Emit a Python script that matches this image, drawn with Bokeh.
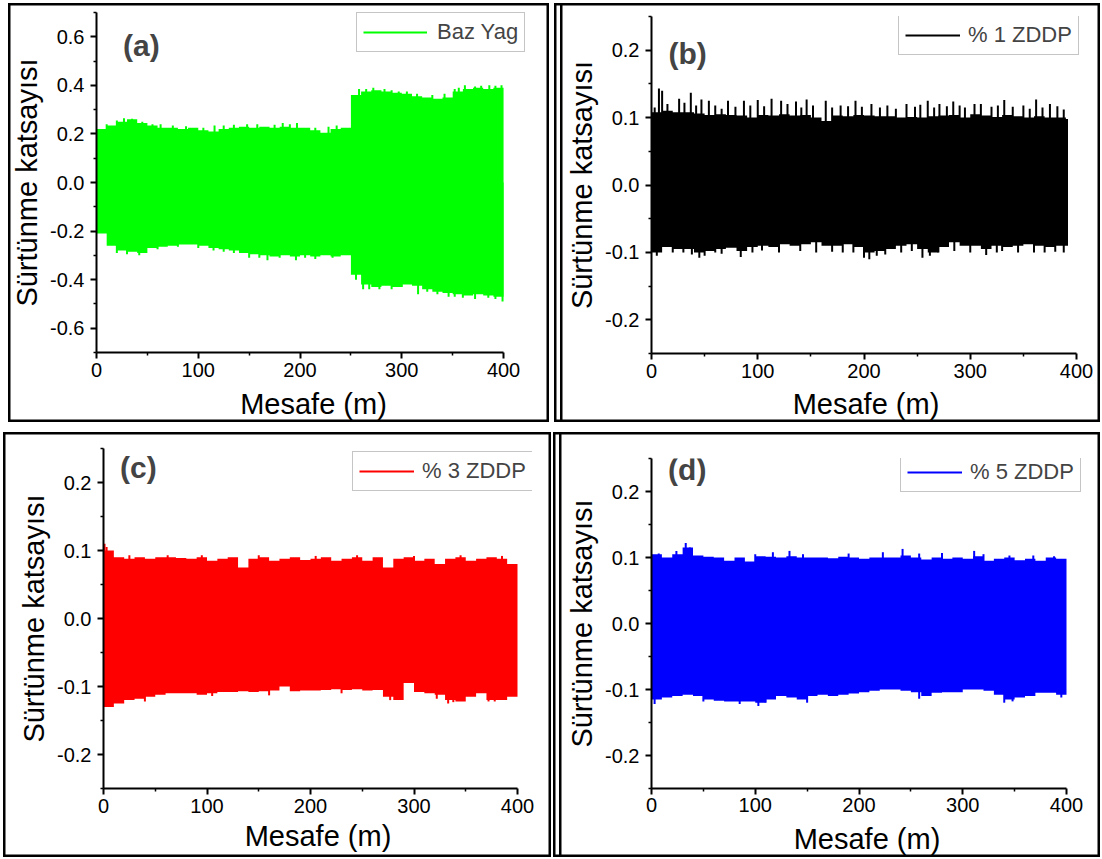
from bokeh.plotting import figure
from bokeh.layouts import column, row
from bokeh.models import (Range1d, FixedTicker, PrintfTickFormatter, Legend,
                          LegendItem, Label)
from bokeh.embed import file_html
from bokeh.resources import INLINE

FONT = "Liberation Sans"

# ---------------- data (envelopes of the friction signal) -------------
dist = list(range(0, 401, 10))
dist_b = list(range(0, 391, 10)) + [392]

a_top = [0.22, 0.235, 0.25, 0.26, 0.245, 0.235, 0.225, 0.225, 0.22, 0.225,
         0.215, 0.21, 0.22, 0.225, 0.23, 0.225, 0.23, 0.225, 0.23, 0.225,
         0.225, 0.215, 0.205, 0.22, 0.225, 0.36, 0.375, 0.38, 0.375, 0.37,
         0.365, 0.355, 0.35, 0.345, 0.35, 0.375, 0.385, 0.39, 0.385, 0.39, 0.39]
a_bot = [-0.21, -0.26, -0.28, -0.285, -0.29, -0.27, -0.265, -0.26, -0.255, -0.255,
         -0.26, -0.27, -0.275, -0.28, -0.29, -0.295, -0.3, -0.305, -0.3, -0.305,
         -0.3, -0.305, -0.3, -0.305, -0.3, -0.38, -0.42, -0.43, -0.425, -0.43,
         -0.42, -0.425, -0.44, -0.45, -0.455, -0.46, -0.465, -0.46, -0.465, -0.47, -0.48]
a_spike_x = [10, 20, 27, 35, 45, 55, 63, 75, 88, 105, 116, 125, 135, 148, 158, 175, 183,
             190, 197, 215, 228, 236, 258, 265, 272, 283, 290, 297, 305, 315, 330, 342,
             352, 356, 362, 372, 378, 386, 392, 398,
             20, 30, 42, 60, 80, 100, 115, 125, 135, 150, 160, 168, 180, 196, 205, 215,
             232, 255, 262, 268, 278, 290, 300, 316, 325, 335, 346, 352, 360, 372, 385, 392, 399]
a_spike_y = [0.24, 0.255, 0.265, 0.262, 0.25, 0.24, 0.24, 0.235, 0.232, 0.225, 0.235, 0.235,
             0.238, 0.24, 0.24, 0.238, 0.245, 0.24, 0.245, 0.225, 0.23, 0.235, 0.385, 0.385,
             0.39, 0.385, 0.38, 0.375, 0.375, 0.365, 0.36, 0.365, 0.385, 0.39, 0.4, 0.395,
             0.398, 0.4, 0.398, 0.4,
             -0.29, -0.295, -0.3, -0.275, -0.265, -0.27, -0.28, -0.285, -0.29, -0.31, -0.31,
             -0.32, -0.31, -0.32, -0.31, -0.315, -0.31, -0.4, -0.44, -0.44, -0.44, -0.44,
             -0.43, -0.46, -0.45, -0.46, -0.47, -0.47, -0.475, -0.48, -0.475, -0.48, -0.49]

b_top = [0.108, 0.11, 0.108, 0.108, 0.106, 0.104, 0.105, 0.104, 0.103, 0.1,
         0.104, 0.103, 0.105, 0.103, 0.104, 0.1, 0.095, 0.103, 0.102, 0.104,
         0.103, 0.102, 0.102, 0.1, 0.101, 0.1, 0.102, 0.103, 0.104, 0.1,
         0.105, 0.103, 0.101, 0.104, 0.102, 0.1, 0.102, 0.1, 0.1, 0.098, 0.098]
b_bot = [-0.1, -0.092, -0.095, -0.095, -0.1, -0.098, -0.095, -0.093, -0.098, -0.092,
         -0.09, -0.092, -0.088, -0.09, -0.088, -0.085, -0.09, -0.09, -0.088, -0.092,
         -0.1, -0.098, -0.095, -0.09, -0.088, -0.095, -0.1, -0.092, -0.085, -0.09,
         -0.09, -0.095, -0.09, -0.092, -0.09, -0.088, -0.09, -0.092, -0.09, -0.09, -0.09]
b_spike_x = [3, 7, 10, 15, 26, 31, 37, 42, 47, 54, 60, 66, 72, 79, 87, 93, 100, 106, 113,
             122, 128, 136, 141, 146, 152, 164, 170, 178, 185, 192, 198, 207, 215, 222,
             230, 240, 248, 253, 260, 266, 271, 278, 284, 290, 295, 304, 310, 320, 326,
             332, 340, 350, 356, 362, 368, 375, 382, 388,
             5, 20, 30, 38, 45, 50, 60, 66, 84, 95, 104, 120, 140, 155, 170, 180, 190,
             200, 205, 212, 220, 235, 245, 255, 262, 270, 285, 300, 315, 325, 330, 345,
             360, 370, 380, 388]
b_spike_y = [0.115, 0.143, 0.14, 0.12, 0.128, 0.122, 0.137, 0.118, 0.127, 0.125, 0.118,
             0.113, 0.125, 0.116, 0.125, 0.118, 0.126, 0.117, 0.128, 0.125, 0.12, 0.124,
             0.115, 0.127, 0.118, 0.125, 0.115, 0.118, 0.117, 0.125, 0.116, 0.12, 0.115,
             0.118, 0.113, 0.12, 0.116, 0.119, 0.125, 0.115, 0.12, 0.117, 0.124, 0.118,
             0.115, 0.12, 0.12, 0.116, 0.118, 0.126, 0.116, 0.118, 0.113, 0.127, 0.115,
             0.12, 0.117, 0.112,
             -0.105, -0.1, -0.1, -0.103, -0.108, -0.105, -0.1, -0.102, -0.107, -0.1,
             -0.097, -0.1, -0.098, -0.1, -0.099, -0.1, -0.1, -0.108, -0.11, -0.105,
             -0.103, -0.1, -0.098, -0.108, -0.105, -0.1, -0.098, -0.1, -0.104, -0.1,
             -0.098, -0.1, -0.1, -0.1, -0.099, -0.1]

c_top = [0.1, 0.09, 0.088, 0.09, 0.088, 0.09, 0.09, 0.089, 0.088, 0.09,
         0.085, 0.088, 0.09, 0.075, 0.088, 0.09, 0.085, 0.088, 0.09, 0.086,
         0.088, 0.09, 0.085, 0.088, 0.09, 0.085, 0.09, 0.075, 0.088, 0.09,
         0.085, 0.088, 0.08, 0.088, 0.09, 0.085, 0.088, 0.09, 0.088, 0.08, 0.075]
c_bot = [-0.13, -0.125, -0.12, -0.118, -0.115, -0.112, -0.11, -0.11, -0.11, -0.112,
         -0.11, -0.108, -0.108, -0.107, -0.108, -0.107, -0.106, -0.1, -0.107, -0.106,
         -0.106, -0.105, -0.104, -0.105, -0.104, -0.106, -0.105, -0.115, -0.12, -0.095,
         -0.108, -0.11, -0.112, -0.12, -0.122, -0.115, -0.11, -0.12, -0.12, -0.115, -0.11]
c_spike_x = [1, 3, 25, 62, 95, 150, 205, 245, 300, 345, 385,
             40, 105, 160, 230, 277, 322, 333, 338, 372, 378]
c_spike_y = [0.11, 0.105, 0.093, 0.093, 0.093, 0.093, 0.092, 0.093, 0.092, 0.093, 0.092,
             -0.122, -0.114, -0.113, -0.11, -0.12, -0.118, -0.125, -0.123, -0.122, -0.122]

d_top = [0.105, 0.1, 0.105, 0.115, 0.103, 0.101, 0.1, 0.095, 0.1, 0.094,
         0.102, 0.101, 0.1, 0.102, 0.1, 0.1, 0.1, 0.099, 0.101, 0.1,
         0.098, 0.1, 0.1, 0.1, 0.103, 0.1, 0.097, 0.1, 0.098, 0.1,
         0.098, 0.102, 0.095, 0.098, 0.1, 0.096, 0.098, 0.095, 0.1, 0.098, 0.098]
d_bot = [-0.115, -0.112, -0.11, -0.108, -0.11, -0.115, -0.117, -0.118, -0.118, -0.118,
         -0.12, -0.115, -0.11, -0.112, -0.115, -0.11, -0.108, -0.11, -0.108, -0.106,
         -0.104, -0.102, -0.1, -0.1, -0.102, -0.104, -0.11, -0.105, -0.104, -0.104,
         -0.1, -0.1, -0.102, -0.108, -0.115, -0.112, -0.11, -0.105, -0.105, -0.108, -0.105]
d_spike_x = [7, 24, 33, 37, 100, 117, 133, 146, 190, 223, 242, 258, 280, 311, 320, 345, 368, 388,
             3, 50, 85, 103, 110, 150, 258, 340, 348, 395]
d_spike_y = [0.106, 0.11, 0.122, 0.115, 0.105, 0.108, 0.11, 0.105, 0.106, 0.108, 0.113, 0.106,
             0.107, 0.11, 0.105, 0.103, 0.103, 0.102,
             -0.122, -0.118, -0.122, -0.125, -0.12, -0.12, -0.114, -0.12, -0.118, -0.112]

x_ticks = [0, 100, 200, 300, 400]
x_minor = [50, 150, 250, 350]
ya_ticks = [-0.6, -0.4, -0.2, 0.0, 0.2, 0.4, 0.6]
ya_minor = [-0.7, -0.5, -0.3, -0.1, 0.1, 0.3, 0.5, 0.7]
yb_ticks = [-0.2, -0.1, 0.0, 0.1, 0.2]
yb_minor = [-0.25, -0.15, -0.05, 0.05, 0.15, 0.25]

labels = ["Baz Yag", "% 1 ZDDP", "% 3 ZDDP", "% 5 ZDDP"]
colors = ["#00FF00", "#000000", "#FF0000", "#0000FF"]

SINGLE = "inset 0 0 0 2.5px black"
DOUBLE = ("inset 0 0 0 2.5px black, inset 6px 0 0 0 white, "
          "inset 8.5px 0 0 0 black")


def panel(box, shadow, x0px, x400px, xright, ytop, ybot, yr, yt, ym,
          xs, top, bot, spx, spy, color, label, tag, tag_xy, leg_xy,
          tick_standoff, title_standoff, glyph_w, leg_standoff):
    # box = (left, top, right, bottom) of the panel frame in page pixels
    bx0, by0, bx1, by1 = box
    w, h = bx1 - bx0, by1 - by0
    xmax = 400.0 * (xright - x0px) / (x400px - x0px)
    p = figure(width=w, height=h, output_backend="svg", toolbar_location=None,
               x_range=Range1d(0, xmax), y_range=Range1d(*yr),
               min_border_left=x0px - bx0, min_border_right=bx1 - xright,
               min_border_top=ytop - by0, min_border_bottom=by1 - ybot,
               x_axis_label="Mesafe (m)", y_axis_label="Sürtünme katsayısı",
               styles={"box-shadow": shadow})
    p.xgrid.visible = False
    p.ygrid.visible = False
    p.outline_line_color = None
    p.background_fill_color = "white"
    p.border_fill_alpha = 0

    p.varea_step(x=xs, y1=bot, y2=top, step_mode="after", fill_color=color)
    seg = p.segment(x0=spx, y0=[0] * len(spx), x1=spx, y1=spy,
                    line_color=color, line_width=2)

    for ax, ticks, minor in ((p.xaxis[0], x_ticks, x_minor), (p.yaxis[0], yt, ym)):
        ax.ticker = FixedTicker(ticks=ticks, minor_ticks=minor)
        ax.axis_line_width = 2
        ax.major_tick_line_width = 2
        ax.minor_tick_line_width = 1.5
        ax.major_tick_in = 0
        ax.major_tick_out = 6
        ax.minor_tick_in = 0
        ax.minor_tick_out = 3
        ax.major_label_text_font = FONT
        ax.major_label_text_font_size = "20px"
        ax.major_label_text_color = "black"
        ax.axis_label_text_font = FONT
        ax.axis_label_text_font_size = "29px"
        ax.axis_label_text_font_style = "normal"
        ax.axis_label_text_color = "black"
    p.xaxis[0].bounds = (0, 400)
    p.yaxis[0].formatter = PrintfTickFormatter(format="%.1f")
    p.xaxis[0].major_label_standoff = tick_standoff
    p.xaxis[0].axis_label_standoff = title_standoff
    p.yaxis[0].major_label_standoff = 6
    p.yaxis[0].axis_label_standoff = 4

    leg = Legend(items=[LegendItem(label=label, renderers=[seg])],
                 location=leg_xy, label_text_font=FONT, label_text_font_size="22px",
                 glyph_width=glyph_w, glyph_height=20, label_standoff=leg_standoff,
                 padding=6, margin=0, spacing=0, border_line_color="#8c8c8c",
                 border_line_width=1, background_fill_color="white",
                 background_fill_alpha=1)
    p.add_layout(leg)

    p.add_layout(Label(x=tag_xy[0], y=tag_xy[1], text=tag, text_font=FONT,
                       text_font_size="30px", text_font_style="bold",
                       text_baseline="middle", text_align="left"))
    return p


# panel frames: a 8..549 x 3..422 | b 554..1100 x 3..422
#               c 3..551 x 432..857 | d 553..1100 x 432..857
pa = panel((8, 3, 549, 422), SINGLE, 95, 503, 530, 12, 353, (-0.7, 0.7), ya_ticks, ya_minor,
           dist, a_top, a_bot, a_spike_x, a_spike_y, colors[0], labels[0],
           "(a)", (26, 0.565), (260, 300), 4, 8, 64, 10)
pb = panel((554, 3, 1100, 422), DOUBLE, 651, 1076, 1080, 16, 355, (-0.25, 0.25), yb_ticks, yb_minor,
           dist_b, b_top, b_bot, b_spike_x, b_spike_y, colors[1], labels[1],
           "(b)", (16, 0.195), (247, 298), 4, 7, 55, 8)
pc = panel((3, 432, 551, 857), SINGLE, 103, 517, 532, 448, 788, (-0.25, 0.25), yb_ticks, yb_minor,
           dist, c_top, c_bot, c_spike_x, c_spike_y, colors[2], labels[2],
           "(c)", (16, 0.222), (249, 297), 4, 4, 55, 8)
pd_ = panel((553, 432, 1100, 857), DOUBLE, 651, 1066, 1082, 458, 792, (-0.25, 0.25), yb_ticks, yb_minor,
            dist, d_top, d_bot, d_spike_x, d_spike_y, colors[3], labels[3],
            "(d)", (16, 0.233), (249, 296), 3, 8, 55, 8)

for p, m in ((pa, (3, 0, 0, 8)), (pb, (3, 2, 0, 5)), (pc, (10, 0, 0, 3)), (pd_, (10, 2, 0, 2))):
    p.margin = m

layout = column(row(column(pa), column(pb), spacing=0),
                row(column(pc), column(pd_), spacing=0), spacing=0)

with open("out.html", "w") as f:
    f.write(file_html(layout, INLINE))
